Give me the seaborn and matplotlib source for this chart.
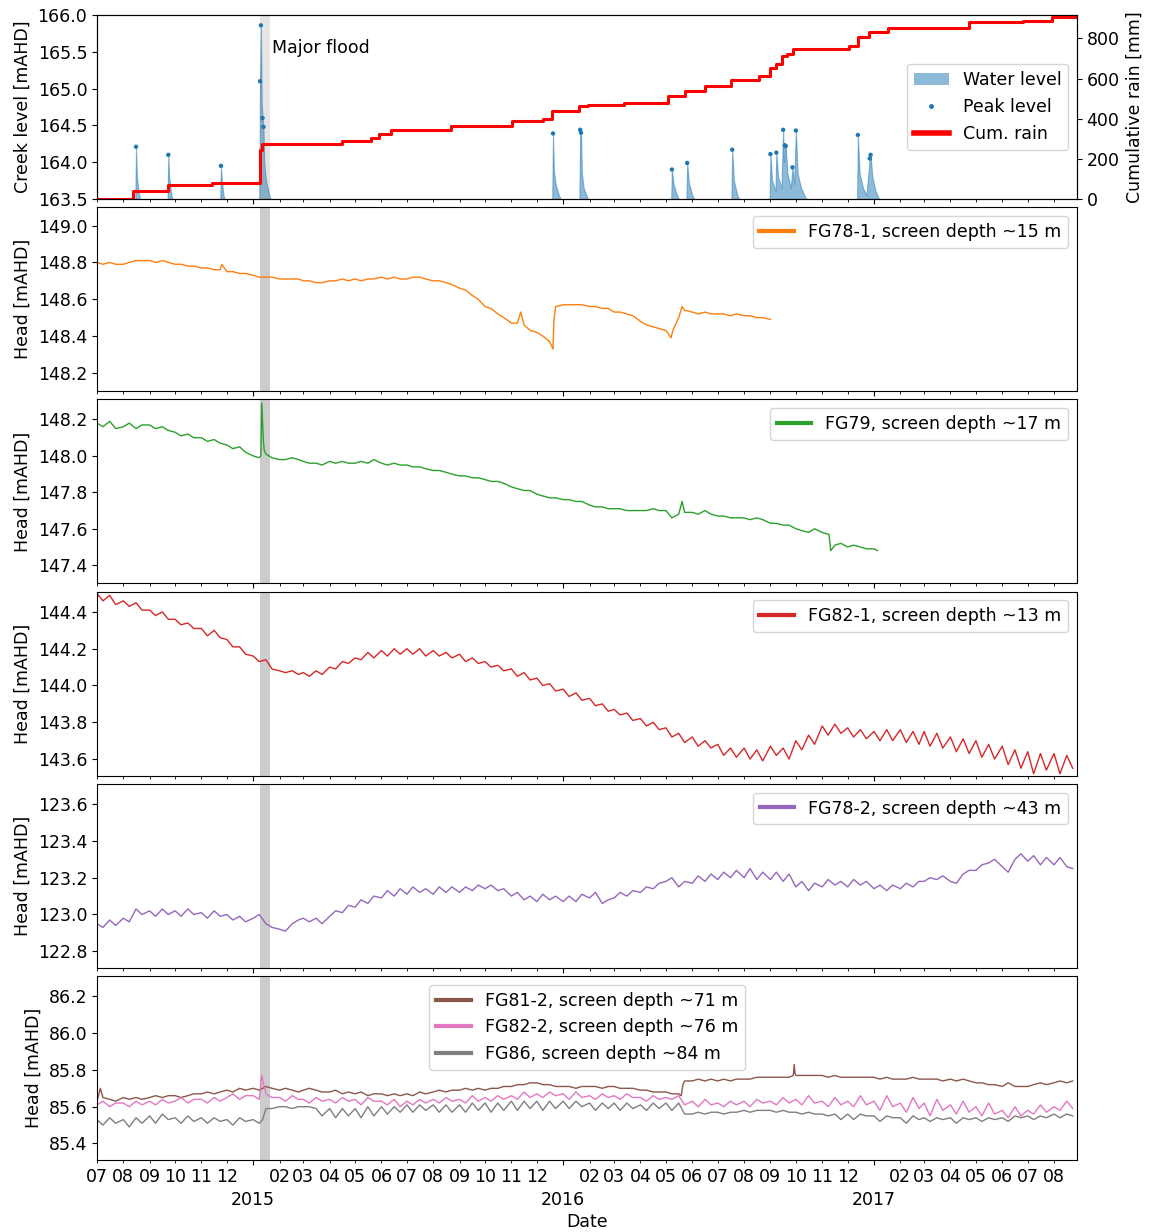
import numpy as np
import pandas as pd
import matplotlib
matplotlib.use("Agg")
import matplotlib.pyplot as plt
import matplotlib.dates as mdates
from matplotlib.ticker import MultipleLocator
from matplotlib.patches import Patch
import seaborn as sns

plt.rcParams["font.size"] = 12.5
plt.rcParams["font.family"] = ["DejaVu Sans"]

# ---------------- data ----------------
months = pd.period_range("2014-07", "2017-08", freq="M")
grid_days = [1, 8, 16, 23]
grid_dates = [pd.Timestamp(year=p.year, month=p.month, day=d) for p in months for d in grid_days]

flood_start, flood_end = "2015-01-09", "2015-01-21"
x_start, x_end = "2014-07-01", "2017-08-28"

# creek water level hydrographs [mAHD]
creek_dates = [
    "2014-07-01", "2014-08-15", "2014-08-16", "2014-08-17", "2014-08-19", "2014-08-22",
    "2014-09-22", "2014-09-23", "2014-09-24", "2014-09-26", "2014-09-29",
    "2014-11-23", "2014-11-24", "2014-11-25", "2014-11-27", "2014-11-30",
    "2015-01-08", "2015-01-09", "2015-01-10", "2015-01-11", "2015-01-12", "2015-01-13",
    "2015-01-14", "2015-01-16", "2015-01-20", "2015-01-24",
    "2015-12-19", "2015-12-20", "2015-12-21", "2015-12-23", "2015-12-27", "2016-01-02",
    "2016-01-20", "2016-01-21", "2016-01-22", "2016-01-23", "2016-01-25", "2016-01-30", "2016-02-04",
    "2016-05-07", "2016-05-08", "2016-05-10", "2016-05-14", "2016-05-20",
    "2016-05-25", "2016-05-26", "2016-05-28", "2016-06-01", "2016-06-07",
    "2016-07-17", "2016-07-18", "2016-07-20", "2016-07-24", "2016-07-30",
    "2016-08-31", "2016-09-01", "2016-09-03", "2016-09-07", "2016-09-08", "2016-09-10",
    "2016-09-14", "2016-09-16", "2016-09-17", "2016-09-18", "2016-09-19", "2016-09-21",
    "2016-09-25", "2016-09-27", "2016-09-29", "2016-10-01", "2016-10-03", "2016-10-07",
    "2016-10-13", "2016-10-20",
    "2016-12-12", "2016-12-13", "2016-12-15", "2016-12-19", "2016-12-23", "2016-12-27",
    "2016-12-28", "2016-12-30", "2017-01-03", "2017-01-09", "2017-01-14",
    "2017-08-28",
]
creek_levels = [
    163.40, 163.40, 164.21, 163.80, 163.60, 163.40,
    163.40, 164.10, 163.80, 163.60, 163.40,
    163.40, 163.95, 163.75, 163.55, 163.40,
    163.40, 165.10, 165.86, 164.80, 164.60, 164.48,
    164.00, 163.75, 163.55, 163.40,
    163.40, 164.39, 163.90, 163.70, 163.55, 163.40,
    163.40, 164.44, 164.40, 163.85, 163.65, 163.50, 163.40,
    163.40, 163.90, 163.70, 163.55, 163.40,
    163.40, 163.99, 163.72, 163.55, 163.40,
    163.40, 164.17, 163.75, 163.55, 163.40,
    163.40, 164.11, 163.75, 163.60, 164.13, 163.80,
    163.65, 164.44, 164.00, 164.23, 164.22, 163.85,
    163.65, 163.93, 163.70, 164.43, 163.85, 163.65,
    163.50, 163.40,
    163.40, 164.37, 163.85, 163.65, 163.55, 164.05,
    164.10, 163.80, 163.60, 163.45, 163.40,
    163.40,
]

peak_dates = ["2014-08-16", "2014-09-23", "2014-11-24", "2015-01-09", "2015-01-10",
              "2015-01-12", "2015-01-13", "2015-12-20", "2016-01-21", "2016-01-22",
              "2016-05-08", "2016-05-26", "2016-07-18", "2016-09-01", "2016-09-08",
              "2016-09-16", "2016-09-18", "2016-09-19", "2016-09-27", "2016-10-01",
              "2016-12-13", "2016-12-27", "2016-12-28"]
peak_levels = [164.21, 164.10, 163.95, 165.10, 165.86,
               164.60, 164.48, 164.39, 164.44, 164.40,
               163.90, 163.99, 164.17, 164.11, 164.13,
               164.44, 164.23, 164.22, 163.93, 164.43,
               164.37, 164.05, 164.10]

# cumulative rain [mm]
rain_dates = ["2014-07-01", "2014-08-13", "2014-09-23", "2014-11-13", "2014-11-24",
              "2015-01-09", "2015-01-11", "2015-02-18", "2015-04-16", "2015-05-20",
              "2015-05-29", "2015-06-12", "2015-08-22", "2015-11-02", "2015-12-08",
              "2015-12-19", "2016-01-20", "2016-01-30", "2016-03-13", "2016-05-03",
              "2016-05-23", "2016-06-16", "2016-07-17", "2016-08-19", "2016-08-31",
              "2016-09-08", "2016-09-15", "2016-09-20", "2016-09-28", "2016-12-02",
              "2016-12-13", "2016-12-26", "2017-01-18", "2017-04-23", "2017-06-26",
              "2017-07-30", "2017-08-28"]
rain_cum = [0, 42, 69, 80, 82,
            246, 272, 276, 290, 305,
            322, 342, 363, 387, 400,
            439, 461, 467, 477, 514,
            539, 561, 593, 615, 652,
            673, 712, 725, 749, 762,
            805, 834, 851, 880, 889,
            906, 906]

# groundwater heads [mAHD], 4 readings per month (1st, 8th, 16th, 23rd)
fg78_1 = [
    148.80, 148.79, 148.80, 148.79,  148.79, 148.80, 148.81, 148.81,  148.81, 148.80, 148.81, 148.80,
    148.79, 148.79, 148.78, 148.78,  148.77, 148.77, 148.76, 148.76,  148.75, 148.75, 148.74, 148.74,
    148.73, 148.72, 148.72, 148.72,  148.71, 148.71, 148.71, 148.71,  148.70, 148.70, 148.69, 148.69,
    148.70, 148.70, 148.71, 148.70,  148.71, 148.70, 148.71, 148.71,  148.72, 148.71, 148.72, 148.71,
    148.71, 148.72, 148.72, 148.71,  148.70, 148.70, 148.69, 148.68,  148.66, 148.65, 148.62, 148.60,
    148.56, 148.55, 148.52, 148.50,  148.47, 148.47, 148.46, 148.43,  148.42, 148.40, 148.37, 148.56,
    148.57, 148.57, 148.57, 148.57,  148.56, 148.56, 148.55, 148.55,  148.53, 148.53, 148.52, 148.51,
    148.48, 148.46, 148.45, 148.44,  148.43, 148.41, 148.50, 148.54,  148.53, 148.52, 148.53, 148.52,
    148.52, 148.52, 148.51, 148.52,  148.51, 148.51, 148.50, 148.50,  148.49,
]
fg78_1_events = [("2014-11-25", 148.79), ("2015-11-12", 148.53), ("2015-12-19", 148.34),
                 ("2015-12-20", 148.33), ("2015-12-21", 148.48), ("2016-05-07", 148.39),
                 ("2016-05-10", 148.44), ("2016-05-20", 148.56)]

fg79 = [
    148.18, 148.16, 148.19, 148.15,  148.16, 148.18, 148.15, 148.17,  148.17, 148.15, 148.16, 148.14,
    148.13, 148.11, 148.12, 148.10,  148.10, 148.08, 148.09, 148.07,  148.06, 148.04, 148.05, 148.02,
    148.00, 147.99, 148.01, 147.99,  147.98, 147.98, 147.99, 147.98,  147.97, 147.96, 147.96, 147.95,
    147.97, 147.96, 147.97, 147.96,  147.96, 147.97, 147.96, 147.98,  147.96, 147.95, 147.96, 147.95,
    147.95, 147.94, 147.94, 147.93,  147.92, 147.92, 147.91, 147.90,  147.89, 147.89, 147.88, 147.88,
    147.87, 147.86, 147.86, 147.85,  147.83, 147.82, 147.81, 147.81,  147.79, 147.78, 147.77, 147.77,
    147.76, 147.76, 147.75, 147.75,  147.73, 147.72, 147.72, 147.71,  147.71, 147.71, 147.70, 147.70,
    147.70, 147.70, 147.71, 147.70,  147.70, 147.66, 147.68, 147.69,  147.69, 147.68, 147.70, 147.68,
    147.67, 147.67, 147.66, 147.66,  147.66, 147.65, 147.66, 147.65,  147.63, 147.63, 147.62, 147.62,
    147.60, 147.59, 147.58, 147.60,  147.58, 147.57, 147.51, 147.52,  147.50, 147.51, 147.50, 147.49,
    147.49,
]
fg79_events = [("2015-01-10", 148.00), ("2015-01-11", 148.29), ("2015-01-13", 148.08),
               ("2015-01-14", 148.03), ("2016-05-20", 147.75), ("2016-11-09", 147.57),
               ("2016-11-11", 147.48), ("2017-01-05", 147.48)]

fg82_1 = [
    144.50, 144.46, 144.49, 144.44,  144.46, 144.43, 144.45, 144.41,  144.41, 144.38, 144.40, 144.36,
    144.36, 144.33, 144.34, 144.31,  144.31, 144.27, 144.30, 144.26,  144.25, 144.21, 144.21, 144.17,
    144.16, 144.13, 144.14, 144.09,  144.08, 144.07, 144.08, 144.06,  144.07, 144.05, 144.08, 144.06,
    144.10, 144.09, 144.13, 144.12,  144.15, 144.14, 144.18, 144.15,  144.19, 144.16, 144.20, 144.17,
    144.20, 144.17, 144.20, 144.16,  144.19, 144.16, 144.18, 144.15,  144.17, 144.13, 144.15, 144.12,
    144.13, 144.10, 144.11, 144.08,  144.09, 144.05, 144.07, 144.03,  144.04, 144.00, 144.01, 143.97,
    143.98, 143.94, 143.96, 143.92,  143.93, 143.89, 143.90, 143.86,  143.87, 143.84, 143.85, 143.81,
    143.82, 143.78, 143.80, 143.76,  143.77, 143.72, 143.74, 143.69,  143.72, 143.67, 143.70, 143.66,
    143.68, 143.62, 143.66, 143.61,  143.66, 143.60, 143.65, 143.59,  143.67, 143.62, 143.66, 143.60,
    143.70, 143.65, 143.73, 143.68,  143.78, 143.73, 143.79, 143.74,  143.77, 143.72, 143.76, 143.71,
    143.75, 143.70, 143.76, 143.70,  143.76, 143.69, 143.75, 143.68,  143.75, 143.67, 143.74, 143.66,
    143.72, 143.64, 143.71, 143.63,  143.70, 143.61, 143.68, 143.60,  143.67, 143.57, 143.65, 143.55,
    143.64, 143.52, 143.63, 143.54,  143.63, 143.52, 143.62, 143.55,
]

fg78_2 = [
    122.95, 122.93, 122.97, 122.94,  122.98, 122.96, 123.03, 123.00,  123.02, 122.99, 123.03, 123.00,
    123.02, 122.99, 123.03, 123.00,  123.01, 122.98, 123.02, 122.99,  123.00, 122.97, 122.99, 122.96,
    122.98, 123.00, 122.95, 122.93,  122.92, 122.91, 122.95, 122.97,  122.98, 122.96, 122.98, 122.95,
    122.99, 123.02, 123.01, 123.05,  123.04, 123.08, 123.06, 123.10,  123.09, 123.13, 123.10, 123.14,
    123.11, 123.15, 123.12, 123.14,  123.11, 123.15, 123.12, 123.15,  123.12, 123.15, 123.13, 123.16,
    123.14, 123.16, 123.13, 123.14,  123.10, 123.12, 123.08, 123.10,  123.07, 123.11, 123.08, 123.10,
    123.07, 123.10, 123.07, 123.11,  123.09, 123.12, 123.06, 123.08,  123.09, 123.12, 123.10, 123.13,
    123.12, 123.15, 123.14, 123.17,  123.18, 123.20, 123.15, 123.18,  123.17, 123.21, 123.18, 123.22,
    123.19, 123.23, 123.20, 123.24,  123.20, 123.25, 123.19, 123.23,  123.19, 123.23, 123.18, 123.22,
    123.15, 123.18, 123.13, 123.17,  123.15, 123.19, 123.16, 123.18,  123.15, 123.19, 123.16, 123.18,
    123.14, 123.16, 123.13, 123.16,  123.14, 123.17, 123.15, 123.18,  123.18, 123.20, 123.19, 123.21,
    123.18, 123.17, 123.22, 123.24,  123.24, 123.27, 123.28, 123.30,  123.26, 123.23, 123.30, 123.33,
    123.29, 123.32, 123.27, 123.31,  123.27, 123.31, 123.26, 123.25,
]

fg81_2 = [
    85.63, 85.65, 85.64, 85.63,  85.65, 85.64, 85.65, 85.64,  85.65, 85.66, 85.65, 85.66,
    85.66, 85.65, 85.66, 85.67,  85.67, 85.68, 85.67, 85.68,  85.69, 85.68, 85.70, 85.69,
    85.70, 85.69, 85.71, 85.70,  85.69, 85.70, 85.69, 85.68,  85.69, 85.70, 85.69, 85.68,
    85.68, 85.69, 85.67, 85.68,  85.67, 85.68, 85.66, 85.67,  85.67, 85.66, 85.67, 85.66,
    85.67, 85.66, 85.68, 85.67,  85.68, 85.69, 85.68, 85.69,  85.69, 85.70, 85.69, 85.70,
    85.69, 85.70, 85.70, 85.71,  85.71, 85.72, 85.72, 85.73,  85.73, 85.72, 85.72, 85.71,
    85.71, 85.71, 85.70, 85.71,  85.71, 85.71, 85.70, 85.71,  85.71, 85.70, 85.70, 85.70,
    85.69, 85.69, 85.68, 85.68,  85.68, 85.67, 85.67, 85.74,  85.74, 85.75, 85.74, 85.75,
    85.74, 85.75, 85.74, 85.75,  85.75, 85.75, 85.76, 85.76,  85.76, 85.76, 85.76, 85.76,
    85.77, 85.77, 85.77, 85.77,  85.77, 85.76, 85.77, 85.76,  85.76, 85.76, 85.76, 85.76,
    85.76, 85.75, 85.76, 85.75,  85.75, 85.75, 85.76, 85.75,  85.75, 85.75, 85.75, 85.74,
    85.75, 85.74, 85.75, 85.74,  85.73, 85.73, 85.72, 85.72,  85.71, 85.73, 85.71, 85.71,
    85.71, 85.72, 85.73, 85.72,  85.73, 85.74, 85.73, 85.74,
]
fg81_2_events = [("2014-07-05", 85.70), ("2016-05-19", 85.66), ("2016-05-21", 85.72),
                 ("2016-09-28", 85.77), ("2016-09-29", 85.83), ("2016-09-30", 85.78)]

fg82_2 = [
    85.61, 85.63, 85.60, 85.62,  85.62, 85.60, 85.63, 85.61,  85.63, 85.61, 85.64, 85.62,
    85.63, 85.65, 85.62, 85.64,  85.64, 85.62, 85.65, 85.63,  85.65, 85.67, 85.64, 85.66,
    85.66, 85.64, 85.67, 85.65,  85.65, 85.63, 85.66, 85.64,  85.64, 85.62, 85.65, 85.63,
    85.64, 85.62, 85.65, 85.63,  85.64, 85.61, 85.65, 85.63,  85.63, 85.61, 85.64, 85.60,
    85.63, 85.61, 85.64, 85.62,  85.64, 85.62, 85.65, 85.63,  85.64, 85.62, 85.66, 85.63,
    85.65, 85.63, 85.66, 85.64,  85.66, 85.64, 85.68, 85.65,  85.67, 85.65, 85.68, 85.66,
    85.67, 85.64, 85.68, 85.65,  85.66, 85.64, 85.67, 85.65,  85.66, 85.64, 85.67, 85.65,
    85.65, 85.63, 85.66, 85.64,  85.65, 85.64, 85.66, 85.61,  85.63, 85.60, 85.64, 85.61,
    85.62, 85.60, 85.63, 85.61,  85.63, 85.60, 85.64, 85.62,  85.63, 85.61, 85.65, 85.62,
    85.64, 85.61, 85.66, 85.62,  85.63, 85.60, 85.65, 85.61,  85.63, 85.60, 85.66, 85.61,
    85.63, 85.58, 85.66, 85.60,  85.62, 85.57, 85.65, 85.59,  85.62, 85.55, 85.64, 85.58,
    85.61, 85.56, 85.63, 85.57,  85.60, 85.55, 85.62, 85.56,  85.58, 85.54, 85.60, 85.55,
    85.58, 85.56, 85.61, 85.57,  85.60, 85.58, 85.63, 85.59,
]
fg82_2_events = [("2015-01-11", 85.77)]

fg86 = [
    85.53, 85.50, 85.54, 85.51,  85.53, 85.49, 85.54, 85.51,  85.55, 85.51, 85.56, 85.53,
    85.54, 85.51, 85.55, 85.52,  85.54, 85.51, 85.54, 85.52,  85.53, 85.50, 85.54, 85.52,
    85.53, 85.51, 85.59, 85.59,  85.60, 85.60, 85.59, 85.60,  85.60, 85.60, 85.59, 85.55,
    85.59, 85.54, 85.59, 85.55,  85.59, 85.54, 85.60, 85.55,  85.60, 85.56, 85.60, 85.57,
    85.61, 85.57, 85.61, 85.58,  85.61, 85.57, 85.61, 85.57,  85.61, 85.57, 85.62, 85.58,
    85.62, 85.57, 85.62, 85.58,  85.63, 85.58, 85.63, 85.59,  85.63, 85.58, 85.63, 85.59,
    85.63, 85.59, 85.63, 85.60,  85.62, 85.58, 85.62, 85.59,  85.62, 85.58, 85.62, 85.59,
    85.61, 85.58, 85.62, 85.59,  85.62, 85.58, 85.62, 85.56,  85.56, 85.57, 85.56, 85.57,
    85.57, 85.56, 85.57, 85.57,  85.58, 85.57, 85.58, 85.58,  85.58, 85.57, 85.58, 85.57,
    85.57, 85.56, 85.57, 85.56,  85.56, 85.55, 85.56, 85.53,  85.56, 85.53, 85.56, 85.55,
    85.55, 85.52, 85.55, 85.54,  85.54, 85.51, 85.55, 85.53,  85.54, 85.52, 85.54, 85.53,
    85.54, 85.51, 85.54, 85.53,  85.54, 85.52, 85.54, 85.53,  85.54, 85.52, 85.55, 85.54,
    85.55, 85.53, 85.55, 85.54,  85.56, 85.54, 85.56, 85.55,
]
fg86_events = [("2015-01-12", 85.53)]

labels = {
    "fg78_1": "FG78-1, screen depth ~15 m",
    "fg79": "FG79, screen depth ~17 m",
    "fg82_1": "FG82-1, screen depth ~13 m",
    "fg78_2": "FG78-2, screen depth ~43 m",
    "fg81_2": "FG81-2, screen depth ~71 m",
    "fg82_2": "FG82-2, screen depth ~76 m",
    "fg86": "FG86, screen depth ~84 m",
}


def frame(values, events=()):
    d = pd.DataFrame({"date": grid_dates[:len(values)], "head": values})
    if events:
        e = pd.DataFrame({"date": pd.to_datetime([a for a, _ in events]),
                          "head": [b for _, b in events]})
        d = pd.concat([d, e], ignore_index=True)
    return d.sort_values("date").reset_index(drop=True)


# ---------------- figure ----------------
fig, axes = plt.subplots(6, 1, sharex=True, figsize=(11.49, 12.32), dpi=100)
fig.subplots_adjust(left=0.0844, right=0.9373, top=0.9878, bottom=0.0584, hspace=0.045)

fs, fe = pd.Timestamp(flood_start), pd.Timestamp(flood_end)

# top panel
ax = axes[0]
cd = pd.to_datetime(creek_dates)
ax.fill_between(cd, creek_levels, 163.40, color="C0", alpha=0.5, lw=0.8)
sns.scatterplot(x=pd.to_datetime(peak_dates), y=peak_levels, ax=ax, color="C0", s=10,
                edgecolor="none", zorder=3)
ax.axvspan(fs, fe, color="gray", alpha=0.2, lw=0)
ax.set_ylim(163.5, 166.0)
ax.yaxis.set_major_locator(MultipleLocator(0.5))
ax.set_ylabel("Creek level [mAHD]")
ax.text(pd.Timestamp("2015-01-23"), 165.55, "Major flood", va="center", ha="left")

ax2 = ax.twinx()
sns.lineplot(x=pd.to_datetime(rain_dates), y=rain_cum, ax=ax2, color="red", lw=2.2,
             drawstyle="steps-post")
ax2.set_ylim(0, 917)
ax2.yaxis.set_major_locator(MultipleLocator(200))
ax2.set_ylabel("Cumulative rain [mm]")
handles = [Patch(facecolor="C0", alpha=0.5, label="Water level"),
           plt.Line2D([], [], ls="none", marker="o", ms=2.5, color="C0", label="Peak level"),
           plt.Line2D([], [], color="red", lw=4, label="Cum. rain")]
ax2.legend(handles=handles, loc="center right", handlelength=2.0)

series_axes = [
    (axes[1], [("fg78_1", fg78_1, fg78_1_events, "C1")], (148.10, 149.10), "upper right"),
    (axes[2], [("fg79", fg79, fg79_events, "C2")], (147.30, 148.31), "upper right"),
    (axes[3], [("fg82_1", fg82_1, (), "C3")], (143.51, 144.51), "upper right"),
    (axes[4], [("fg78_2", fg78_2, (), "C4")], (122.71, 123.71), "upper right"),
    (axes[5], [("fg81_2", fg81_2, fg81_2_events, "C5"),
               ("fg82_2", fg82_2, fg82_2_events, "C6"),
               ("fg86", fg86, fg86_events, "C7")], (85.31, 86.31), "upper center"),
]

for ax, items, ylim, loc in series_axes:
    ax.axvspan(fs, fe, color="gray", alpha=0.4, lw=0)
    for key, vals, ev, col in items:
        d = frame(vals, ev)
        sns.lineplot(data=d, x="date", y="head", ax=ax, color=col, lw=1.0, label=labels[key])
    ax.set_ylim(*ylim)
    ax.yaxis.set_major_locator(MultipleLocator(0.2))
    ax.set_ylabel("Head [mAHD]")
    leg = ax.legend(loc=loc)
    for ln in leg.get_lines():
        ln.set_linewidth(3.0)

bottom = axes[-1]
bottom.set_xlim(pd.Timestamp(x_start), pd.Timestamp(x_end))
bottom.xaxis.set_major_locator(mdates.YearLocator())
bottom.xaxis.set_major_formatter(mdates.DateFormatter("%Y"))
bottom.xaxis.set_minor_locator(mdates.MonthLocator())
bottom.xaxis.set_minor_formatter(mdates.DateFormatter("%m"))
bottom.tick_params(axis="x", which="major", pad=19)
bottom.set_xlabel("Date", labelpad=3)
for a in axes[:-1]:
    a.set_xlabel("")

fig.savefig("out.png", dpi=100)
